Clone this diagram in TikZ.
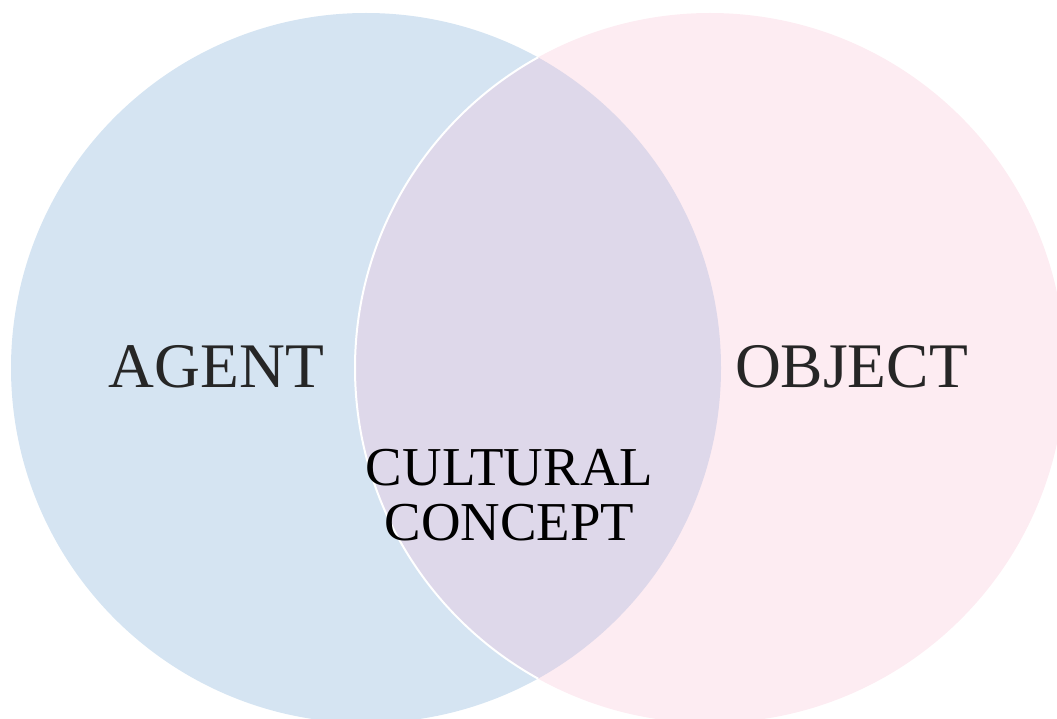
\documentclass[tikz,border=0pt]{standalone}
\usepackage{fontspec}
\setmainfont{Liberation Serif}
\usepackage{tikz}
\definecolor{agentblue}{RGB}{213,228,242}
\definecolor{objectpink}{RGB}{253,236,242}
\definecolor{overlapviolet}{RGB}{222,216,234}
\definecolor{textgray}{RGB}{38,38,38}

\begin{document}
\begin{tikzpicture}[x=1pt,y=-1pt,set node/.style={circle,minimum size=710pt,inner sep=0pt,draw=none},big label/.style={anchor=base,text=textgray,font=\fontsize{63.5}{70}\selectfont},small label/.style={anchor=base,text=black,font=\fontsize{54.8}{58}\selectfont}]
	\useasboundingbox (0,0) rectangle (1057,719);
	\node[set node,fill=agentblue] (agent) at (366,368) {};
	\node[set node,fill=objectpink] (object) at (710,368) {};

	% overlap of the two sets
	\begin{scope}
		\clip (agent.center) circle[radius=355pt];
		\fill[overlapviolet] (object.center) circle[radius=355pt];
		\draw[white,line width=2pt] (object.center) circle[radius=355pt];
	\end{scope}

	\node[big label] (agenttext) at (216.5,387) {AGENT};
	\node[big label] (objecttext) at (851.5,387) {OBJECT};
	\node[small label] (cultural) at (509.5,485) {CULTURAL};
	\node[small label] (concept) at (509.5,540) {CONCEPT};
\end{tikzpicture}
\end{document}
